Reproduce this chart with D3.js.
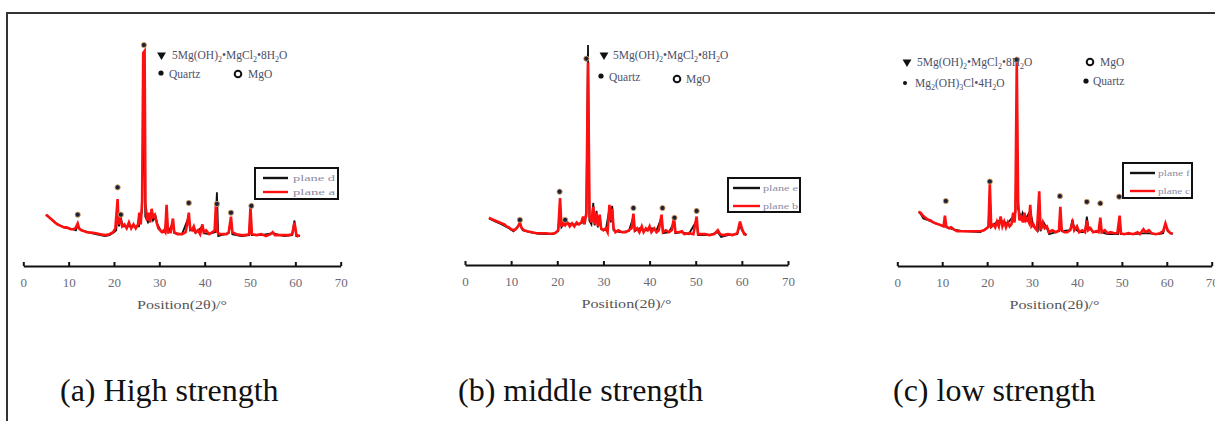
<!DOCTYPE html>
<html>
<head>
<meta charset="utf-8">
<script src="https://cdn.jsdelivr.net/npm/d3@7"></script>
<style>
  body { margin: 0; background: #fff; }
  svg { display: block; }
</style>
</head>
<body>
<div id="chart"></div>
<script>
// ── data: [2θ (°), relative intensity] ──
const xTicks = [0, 10, 20, 30, 40, 50, 60, 70];
const xTitle = "Position(2θ)/°";
const captions = ["(a) High strength", "(b) middle strength", "(c) low strength"];
const legendA = ["plane d", "plane a"];
const legendB = ["plane e", "plane b"];
const legendC = ["plane f", "plane c"];

// phase names, split into [text, isSubscript]
const phaseHydrate = [["5Mg(OH)", 0], ["2", 1], ["•MgCl", 0], ["2", 1], ["•8H", 0], ["2", 1], ["O", 0]];
const phaseHydrate3 = [["Mg", 0], ["2", 1], ["(OH)", 0], ["3", 1], ["Cl•4H", 0], ["2", 1], ["O", 0]];
const phaseQuartz = [["Quartz", 0]];
const phaseMgO = [["MgO", 0]];

const redA = [
  [5.0, 13], [5.5, 12], [6.0, 11], [6.5, 10], [7.0, 9], [7.5, 8], [8.0, 7.5], [8.5, 7], [9.0, 6.5],
  [9.5, 6.5], [10.0, 6], [10.5, 5.5], [11.0, 5.5], [11.5, 6], [12.0, 8.5], [12.3, 6], [12.8, 5],
  [13.5, 4.5], [14.0, 4], [15.0, 3.8], [16.0, 3.5], [17.0, 3], [18.0, 2.5], [19.0, 3], [19.8, 4],
  [20.3, 6], [20.8, 21], [21.0, 8], [21.4, 11], [21.8, 7], [22.3, 8], [22.8, 6], [23.3, 9], [23.8, 6],
  [24.3, 8], [24.8, 6], [25.3, 8], [25.6, 14], [25.9, 8], [26.2, 20], [26.45, 96], [26.75, 97],
  [26.95, 18], [27.3, 10], [27.6, 14], [28.0, 9], [28.3, 16], [28.6, 12], [29.0, 13], [29.4, 9],
  [29.8, 6], [30.2, 5], [30.6, 4], [31.0, 5], [31.3, 4], [31.6, 18], [31.9, 4], [32.5, 4], [33.0, 11],
  [33.3, 4], [34.0, 3], [35.0, 3], [35.8, 4], [36.2, 9], [36.5, 14], [36.8, 6], [37.2, 5], [37.6, 7],
  [38.0, 4], [38.5, 5], [39.0, 3], [39.5, 8], [39.8, 4], [40.3, 5], [41.0, 3], [41.7, 4], [42.2, 5],
  [42.5, 19], [42.8, 4], [43.3, 3], [44.0, 3], [44.8, 3], [45.3, 4], [45.8, 12], [46.1, 4], [47.0, 3],
  [48.0, 2.5], [49.0, 2.5], [49.8, 3], [50.1, 17], [50.4, 3], [51.5, 2.5], [52.5, 3], [53.5, 2],
  [54.5, 3], [55.0, 4], [55.5, 2.5], [56.5, 2.5], [57.5, 2.5], [58.5, 2.5], [59.3, 3], [59.8, 9],
  [60.2, 3], [60.5, 2], [61.0, 2.5]
];
const blackA = [
  [5.0, 13], [6.0, 11], [7.0, 9], [8.0, 7.5], [9.0, 6.5], [10.0, 6], [11.0, 5.5], [11.6, 5], [12.0, 7.5],
  [12.4, 5.5], [13.5, 4.5], [15.0, 3.5], [17.0, 2.5], [18.0, 2], [19.0, 2.5], [20.0, 4], [20.5, 5],
  [20.8, 16], [21.1, 7], [21.5, 12], [21.9, 7], [23.0, 7], [24.5, 7], [25.5, 7], [26.2, 15], [26.6, 70],
  [26.9, 12], [27.5, 9], [28.3, 13], [28.6, 10], [29.2, 12], [29.6, 8], [30.5, 4], [31.3, 4], [31.6, 16],
  [31.9, 3.5], [33.0, 9], [33.3, 3.5], [35.0, 3], [36.5, 12], [36.8, 5], [37.3, 6], [38.0, 3.5],
  [39.5, 7], [39.8, 3.5], [41.0, 3], [42.3, 4], [42.7, 24.5], [43.0, 2], [44.5, 3], [45.3, 3.5],
  [45.8, 10], [46.1, 3], [48.0, 2], [49.8, 2.5], [50.1, 15], [50.4, 2.5], [52.5, 2.5], [55.0, 3.5],
  [57.5, 2], [59.3, 2.5], [59.8, 10], [60.2, 2], [61.0, 2]
];
const marksA = [[12.0, 13], [20.8, 27], [21.5, 13], [26.6, 100], [36.5, 19], [42.7, 18.5], [45.8, 14], [50.3, 17.5]];

const redB = [
  [5.2, 11.5], [5.6, 11], [6.0, 10.5], [6.5, 10], [7.0, 9.5], [7.5, 9], [8.0, 8.5], [8.5, 8], [9.0, 7],
  [9.5, 6.5], [10.0, 5.5], [10.5, 5], [11.0, 5.5], [11.5, 7], [11.9, 9], [12.3, 6], [12.8, 5],
  [13.5, 4.5], [14.5, 4], [15.5, 3.5], [16.5, 3.5], [17.5, 3.5], [18.5, 3.2], [19.5, 3.5], [20.2, 5],
  [20.6, 21.5], [20.9, 7], [21.3, 9], [21.7, 7.5], [22.2, 9], [22.7, 7], [23.2, 8.5], [23.7, 7],
  [24.2, 9], [24.7, 8], [25.2, 9], [25.6, 12], [25.9, 8], [26.3, 14], [26.66, 91], [27.0, 12],
  [27.4, 9], [27.8, 17], [28.1, 8], [28.5, 14], [28.8, 7], [29.2, 13], [29.5, 6], [30.0, 5], [30.5, 6],
  [30.9, 4], [31.3, 18], [31.6, 10], [31.9, 16], [32.2, 6], [32.6, 4], [33.2, 5], [34.0, 4], [34.8, 4],
  [35.5, 5], [36.1, 6], [36.5, 13.5], [36.8, 5], [37.3, 6], [37.8, 4], [38.3, 7], [38.7, 4], [39.2, 6],
  [39.6, 5], [40.0, 7], [40.4, 4], [41.0, 6], [41.5, 4], [42.0, 5], [42.6, 13], [42.9, 4], [43.5, 5],
  [44.2, 4], [44.8, 5], [45.3, 11.5], [45.6, 4], [46.3, 4], [47.0, 4.5], [47.5, 3], [48.5, 3.5],
  [49.5, 3], [50.2, 12], [50.5, 3], [51.2, 3], [52.0, 3], [53.0, 2.5], [54.0, 3], [54.8, 5], [55.3, 3],
  [56.0, 2.5], [57.0, 3], [58.0, 2.5], [59.0, 3.5], [59.6, 9.5], [60.0, 6], [60.5, 3], [61.0, 2.5]
];
const blackB = [
  [5.2, 11], [6.5, 9.5], [8.0, 8], [9.5, 6], [10.5, 4.5], [11.9, 8], [12.5, 5], [14.0, 4], [16.0, 3.2],
  [19.0, 3], [20.2, 4.5], [20.6, 18], [20.9, 6.5], [21.7, 9], [22.5, 8.5], [23.5, 8], [24.5, 8],
  [25.5, 9], [26.3, 12], [26.66, 100], [26.95, 10], [27.4, 8], [27.8, 19], [28.1, 7.5], [28.5, 15],
  [28.8, 6.5], [29.2, 12], [29.5, 5.5], [30.5, 5], [31.3, 16], [31.6, 9], [31.9, 17.5], [32.2, 5],
  [33.5, 4], [35.5, 4.5], [36.5, 12], [36.8, 4.5], [37.8, 6], [38.5, 5], [39.5, 5], [40.5, 6],
  [41.5, 5], [42.6, 11.5], [42.9, 3.5], [44.2, 4], [45.3, 9], [45.6, 3.5], [47.0, 4], [48.5, 3],
  [50.2, 10], [50.5, 2.5], [53.0, 2.5], [54.8, 4], [55.5, 1.5], [57.0, 2.5], [59.0, 3], [59.6, 8],
  [60.0, 5], [61.0, 2.5]
];
const marksB = [[11.9, 10.3], [20.5, 24.8], [21.7, 10.3], [26.3, 93], [36.5, 16.4], [42.8, 16.4], [45.4, 11.4], [50.2, 14.9]];

const redC = [
  [4.7, 14.5], [5.2, 14], [5.7, 12.5], [6.2, 11.5], [6.8, 10.5], [7.4, 10], [8.0, 9], [8.6, 8.5],
  [9.2, 8], [9.8, 7.5], [10.3, 7], [10.6, 12.5], [10.9, 7], [11.5, 6], [12.0, 6.5], [12.5, 5.5],
  [13.3, 4.5], [14.5, 4.5], [15.5, 4.5], [16.5, 4.5], [17.5, 4.5], [18.5, 4.5], [19.3, 5], [19.9, 6],
  [20.3, 7], [20.6, 29], [20.9, 7], [21.4, 8], [21.8, 6.5], [22.2, 9.5], [22.6, 7], [23.0, 12],
  [23.4, 7], [23.8, 9.5], [24.2, 6.5], [24.6, 9], [25.0, 7], [25.4, 8], [25.8, 14], [26.1, 9],
  [26.3, 16], [26.6, 92], [26.9, 20], [27.2, 10], [27.6, 12], [28.0, 9], [28.3, 14], [28.6, 10],
  [28.9, 11], [29.3, 9], [29.6, 18], [29.9, 7], [30.3, 8], [30.7, 6], [31.1, 5], [31.6, 25], [31.9, 5],
  [32.4, 9], [32.8, 6], [33.3, 7], [33.8, 4], [34.5, 5], [35.3, 4], [36.0, 5], [36.3, 17], [36.6, 5],
  [37.2, 4], [37.8, 4], [38.5, 5], [39.0, 9], [39.4, 5], [40.0, 7], [40.5, 4], [41.2, 5], [41.8, 4],
  [42.2, 10], [42.5, 5], [43.0, 6], [43.6, 4], [44.3, 4.5], [44.8, 4], [45.2, 11.5], [45.5, 4],
  [46.2, 5], [46.8, 3.5], [47.5, 4], [48.3, 3.5], [49.0, 3.5], [49.5, 12.5], [49.8, 3.5], [50.5, 3],
  [51.5, 3.5], [52.5, 3], [53.5, 4], [54.0, 3], [54.8, 5.5], [55.3, 4], [56.0, 5], [56.6, 3.5],
  [57.5, 3], [58.5, 3.5], [59.2, 4.5], [59.7, 8.5], [60.2, 5], [60.8, 3.5], [61.3, 3.4]
];
const blackC = [
  [4.8, 14.5], [5.3, 13], [5.8, 11], [7.0, 10], [8.6, 8.5], [10.3, 7], [10.6, 10], [10.9, 6.5],
  [12.5, 5.5], [14.5, 4.5], [18.5, 4], [20.3, 6.5], [20.6, 24], [20.9, 6.5], [22.2, 9.5], [23.0, 10],
  [24.5, 8.5], [25.8, 12], [26.3, 14], [26.6, 56], [26.9, 16], [27.6, 11], [27.9, 14], [28.3, 12],
  [28.9, 12], [29.6, 15], [30.3, 7], [31.3, 5], [31.6, 20], [31.9, 4.5], [32.6, 9], [33.3, 6], [33.8, 3],
  [35.3, 4], [36.0, 4.5], [36.3, 14], [36.6, 4.5], [38.5, 5], [39.0, 10.5], [39.4, 6], [40.5, 4],
  [41.8, 4], [42.2, 12], [42.5, 7], [43.6, 4], [44.8, 4], [45.2, 9], [45.5, 4], [46.8, 3], [48.3, 3],
  [49.2, 3], [49.5, 10], [49.8, 3], [52.5, 3], [55.3, 3.5], [58.3, 3], [59.2, 3.5], [59.7, 8],
  [60.2, 4.5], [61.3, 3]
];
const marksC = [[10.8, 20], [20.6, 30], [26.6, 92.5], [36.2, 22.5], [42.2, 19.6], [45.2, 18.8], [49.4, 22.2]];

// ── layout ──
const W = 1215, H = 421;
const serif = "'Liberation Serif', 'Times New Roman', serif";

const panels = [
  { red: redA, black: blackA, marks: marksA, names: legendA, caption: captions[0],
    x0: 23.3, x1: 340.7, axisY: 266, capX: 60,
    legend: { x: 255, y: 168, w: 83, h: 31, line: [263, 288], ty: [178, 192], tx: 293, tw: 42 },
    keys: [
      { sym: "tri", x: 161.5, y: 55, tx: 172, ty: 59, label: phaseHydrate },
      { sym: "dot", x: 161, y: 73, tx: 169, ty: 78, label: phaseQuartz },
      { sym: "ring", x: 238, y: 74, tx: 248, ty: 78, label: phaseMgO }
    ] },
  { red: redB, black: blackB, marks: marksB, names: legendB, caption: captions[1],
    x0: 465, x1: 788, axisY: 265, capX: 458,
    legend: { x: 728, y: 178, w: 72, h: 34, line: [733, 760], ty: [188, 206], tx: 763, tw: 35 },
    keys: [
      { sym: "tri", x: 604, y: 55, tx: 613, ty: 59, label: phaseHydrate },
      { sym: "dot", x: 601, y: 76, tx: 609, ty: 81, label: phaseQuartz },
      { sym: "ring", x: 677, y: 79, tx: 686, ty: 83, label: phaseMgO }
    ] },
  { red: redC, black: blackC, marks: marksC, names: legendC, caption: captions[2],
    x0: 897.3, x1: 1211.7, axisY: 266, capX: 893,
    legend: { x: 1123, y: 163, w: 69, h: 35, line: [1130, 1155], ty: [173, 191], tx: 1158, tw: 32 },
    keys: [
      { sym: "tri", x: 907, y: 62, tx: 917, ty: 66, label: phaseHydrate },
      { sym: "ring", x: 1090, y: 62, tx: 1100, ty: 66, label: phaseMgO },
      { sym: "small", x: 905, y: 83, tx: 915, ty: 87, label: phaseHydrate3 },
      { sym: "dot", x: 1086, y: 81, tx: 1093, ty: 85, label: phaseQuartz }
    ] }
];

const svg = d3.select("#chart").append("svg")
  .attr("width", W).attr("height", H);

// outer frame (top + left edges)
svg.append("path")
  .attr("d", `M7,${H} L7,13 L${W},13`)
  .attr("fill", "none").attr("stroke", "#333").attr("stroke-width", 2);

// intensity scale is shared by all three panels
const y = d3.scaleLinear().domain([0, 100]).range([240, 45]);

function drawFormula(g, parts, x, yb, size) {
  const t = g.append("text")
    .attr("x", x).attr("y", yb)
    .attr("font-family", serif).attr("font-size", size)
    .attr("fill", "#4d5068");
  let sub = false;
  for (const [txt, s] of parts) {
    const ts = t.append("tspan").text(txt);
    if (s && !sub) { ts.attr("dy", 3).attr("font-size", size * 0.7); sub = true; }
    else if (s) { ts.attr("font-size", size * 0.7); }
    else if (!s && sub) { ts.attr("dy", -3); sub = false; }
  }
  return t;
}

for (const p of panels) {
  const g = svg.append("g");
  const x = d3.scaleLinear().domain([0, 70]).range([p.x0, p.x1]);

  const line = d3.line()
    .x(d => x(d[0]))
    .y(d => y(d[1]));

  // black pattern underneath, red on top
  g.append("path").datum(p.black)
    .attr("d", line)
    .attr("fill", "none").attr("stroke", "#111")
    .attr("stroke-width", 1.8).attr("stroke-linejoin", "miter");
  g.append("path").datum(p.red)
    .attr("d", line)
    .attr("fill", "none").attr("stroke", "#ff1010")
    .attr("stroke-width", 2.6).attr("stroke-linejoin", "miter");

  // phase markers on peaks
  g.selectAll("circle.mark").data(p.marks).join("circle")
    .attr("class", "mark")
    .attr("cx", d => x(d[0])).attr("cy", d => y(d[1]))
    .attr("r", 2.6)
    .attr("fill", "#1a2040")
    .attr("stroke", "#d9a35a").attr("stroke-width", 0.9);

  // x axis
  const axis = d3.axisBottom(x)
    .tickValues(xTicks)
    .tickSizeInner(-4).tickSizeOuter(0)
    .tickPadding(12);
  const ax = g.append("g")
    .attr("transform", `translate(0,${p.axisY})`)
    .call(axis);
  ax.select(".domain").attr("stroke", "#111").attr("stroke-width", 2.2);
  ax.selectAll(".tick line").attr("stroke", "#111").attr("stroke-width", 2);
  ax.selectAll(".tick text")
    .attr("font-family", serif).attr("font-size", 13)
    .attr("fill", "#6a6a78");

  g.append("text")
    .attr("x", (p.x0 + p.x1) / 2).attr("y", p.axisY + 43)
    .attr("text-anchor", "middle")
    .attr("font-family", serif).attr("font-size", 12)
    .attr("textLength", 90).attr("lengthAdjust", "spacingAndGlyphs")
    .attr("fill", "#555")
    .text(xTitle);

  // series legend
  const L = p.legend;
  g.append("rect")
    .attr("x", L.x).attr("y", L.y).attr("width", L.w).attr("height", L.h)
    .attr("fill", "#fff").attr("stroke", "#111").attr("stroke-width", 2);
  const lcol = ["#111", "#ff1010"];
  p.names.forEach((n, i) => {
    g.append("line")
      .attr("x1", L.line[0]).attr("x2", L.line[1])
      .attr("y1", L.ty[i]).attr("y2", L.ty[i])
      .attr("stroke", lcol[i]).attr("stroke-width", 2.4);
    g.append("text")
      .attr("x", L.tx).attr("y", L.ty[i] + 3)
      .attr("font-family", serif).attr("font-size", 9)
      .attr("textLength", L.tw).attr("lengthAdjust", "spacingAndGlyphs")
      .attr("fill", "#8a8ca6")
      .text(n);
  });

  // phase key
  for (const k of p.keys) {
    if (k.sym === "tri") {
      g.append("path")
        .attr("d", d3.symbol(d3.symbolTriangle, 34)())
        .attr("transform", `translate(${k.x},${k.y}) rotate(180)`)
        .attr("fill", "#111");
    } else if (k.sym === "ring") {
      g.append("circle").attr("cx", k.x).attr("cy", k.y).attr("r", 3.3)
        .attr("fill", "none").attr("stroke", "#111").attr("stroke-width", 2);
    } else {
      g.append("circle").attr("cx", k.x).attr("cy", k.y)
        .attr("r", k.sym === "small" ? 2 : 2.6)
        .attr("fill", "#111");
    }
    drawFormula(g, k.label, k.tx, k.ty, 11.5);
  }

  // caption
  svg.append("text")
    .attr("x", p.capX).attr("y", 401)
    .attr("font-family", serif).attr("font-size", 32)
    .attr("fill", "#111")
    .text(p.caption);
}
</script>
</body>
</html>
